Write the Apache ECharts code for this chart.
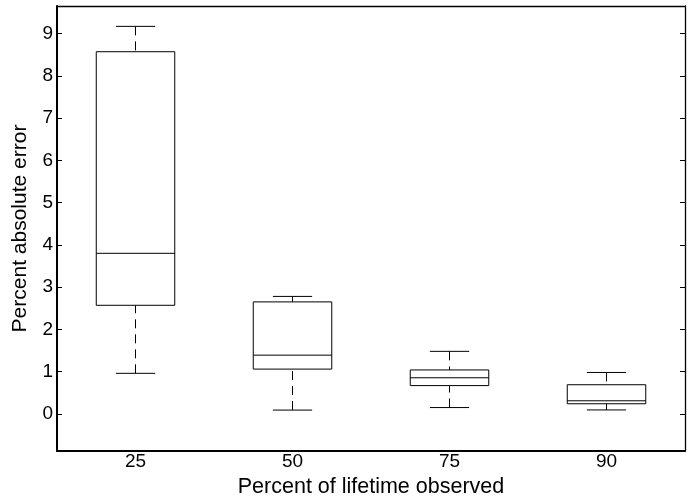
<!DOCTYPE html>
<html>
<head>
<meta charset="utf-8">
<script src="https://cdn.jsdelivr.net/npm/echarts@6/dist/echarts.min.js"></script>
<style>
  html, body { margin: 0; padding: 0; background: #fff; }
  #chart { width: 691px; height: 503px; }
</style>
</head>
<body>
<div id="chart"></div>
<script>
// Percent of lifetime observed (category labels)
const categories = ['25', '50', '75', '90'];
// Box statistics per category
const lowerWhisker = [0.96, 0.09, 0.15, 0.094];
const lowerQuartile = [2.57, 1.06, 0.67, 0.24];
const medians = [3.80, 1.39, 0.855, 0.31];
const upperQuartile = [8.57, 2.65, 1.04, 0.69];
const upperWhisker = [9.17, 2.78, 1.48, 0.98];
// Y axis tick values
const yTicks = [0, 1, 2, 3, 4, 5, 6, 7, 8, 9];

const boxData = categories.map((c, i) => [
  i, lowerWhisker[i], lowerQuartile[i], medians[i], upperQuartile[i], upperWhisker[i]
]);

const font = 'Liberation Sans, Arial, Helvetica, sans-serif';
const lineStyle = { stroke: '#000', lineWidth: 1 };
const dashStyle = { stroke: '#000', lineWidth: 1, lineDash: [9, 6] };

function renderBox(params, api) {
  const x = api.value(0);
  const pLo = api.coord([x, api.value(1)]);
  const pQ1 = api.coord([x, api.value(2)]);
  const pMed = api.coord([x, api.value(3)]);
  const pQ3 = api.coord([x, api.value(4)]);
  const pHi = api.coord([x, api.value(5)]);
  const band = api.size([1, 0])[0];
  const half = band * 0.25;
  const cap = half / 2;
  const cx = pMed[0];
  return {
    type: 'group',
    children: [
      { type: 'rect', shape: { x: cx - half, y: pQ3[1], width: half * 2, height: pQ1[1] - pQ3[1] },
        style: { fill: 'none', stroke: '#000', lineWidth: 1 } },
      { type: 'line', shape: { x1: cx - half, y1: pMed[1], x2: cx + half, y2: pMed[1] }, style: lineStyle },
      { type: 'line', shape: { x1: cx, y1: pHi[1], x2: cx, y2: pQ3[1] }, style: dashStyle },
      { type: 'line', shape: { x1: cx, y1: pLo[1], x2: cx, y2: pQ1[1] }, style: dashStyle },
      { type: 'line', shape: { x1: cx - cap, y1: pHi[1], x2: cx + cap, y2: pHi[1] }, style: lineStyle },
      { type: 'line', shape: { x1: cx - cap, y1: pLo[1], x2: cx + cap, y2: pLo[1] }, style: lineStyle }
    ]
  };
}

const yMin = -0.878, yMax = 9.652;

const chart = echarts.init(document.getElementById('chart'));
chart.setOption({
  animation: false,
  backgroundColor: '#fff',
  grid: { left: 57, right: 6, top: 6, bottom: 50, containLabel: false },
  xAxis: [
    {
      type: 'category', data: categories, position: 'bottom', boundaryGap: true,
      name: 'Percent of lifetime observed', nameLocation: 'middle', nameGap: 25,
      nameTextStyle: { fontFamily: font, fontSize: 21.5, color: '#000' },
      axisLine: { onZero: false, lineStyle: { color: '#000', width: 2 } },
      axisTick: { show: false },
      axisLabel: { fontFamily: font, fontSize: 19, color: '#000', margin: 1 },
      splitLine: { show: false }
    },
    {
      type: 'category', data: categories, position: 'top', boundaryGap: true,
      axisLine: { onZero: false, lineStyle: { color: '#000', width: 1.3 } },
      axisTick: { show: false }, axisLabel: { show: false }, splitLine: { show: false }
    }
  ],
  yAxis: [
    {
      type: 'value', min: yMin, max: yMax, position: 'left',
      name: 'Percent absolute error', nameLocation: 'middle', nameGap: 26,
      nameTextStyle: { fontFamily: font, fontSize: 21, color: '#000' },
      axisLine: { show: true, onZero: false, lineStyle: { color: '#000', width: 2 } },
      axisTick: { show: true, inside: true, length: 5, lineStyle: { color: '#000', width: 1 }, customValues: yTicks },
      axisLabel: { fontFamily: font, fontSize: 19, color: '#000', margin: 4, customValues: yTicks },
      splitLine: { show: false }
    },
    {
      type: 'value', min: yMin, max: yMax, position: 'right',
      axisLine: { show: true, onZero: false, lineStyle: { color: '#000', width: 1.3 } },
      axisTick: { show: true, inside: true, length: 5, lineStyle: { color: '#000', width: 1 }, customValues: yTicks },
      axisLabel: { show: false },
      splitLine: { show: false }
    }
  ],
  series: [
    {
      type: 'custom',
      xAxisIndex: 0, yAxisIndex: 0,
      renderItem: renderBox,
      encode: { x: 0, y: [1, 2, 3, 4, 5] },
      data: boxData,
      silent: true
    }
  ]
});
</script>
</body>
</html>
